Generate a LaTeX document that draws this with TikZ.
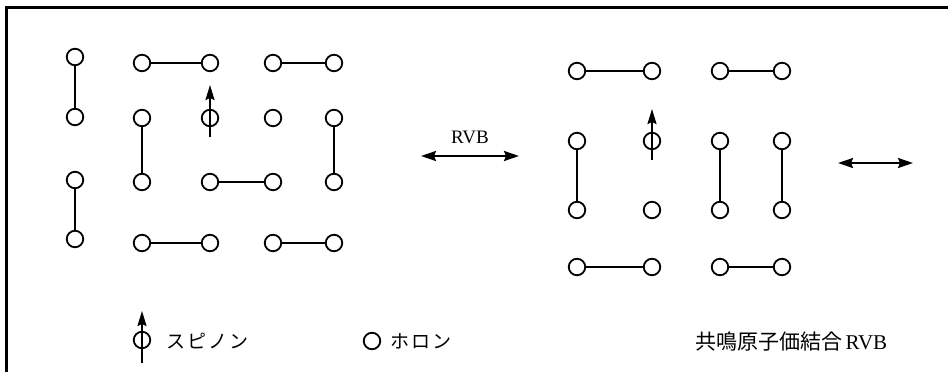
\documentclass[tikz,border=0pt]{standalone}
\usepackage{fontspec}
\newfontfamily\jpfont{Noto Sans CJK JP}
\setmainfont{Liberation Serif}
\usetikzlibrary{arrows.meta}
\tikzset{
  site/.style={circle,draw,line width=1.8pt,minimum size=16.5pt,inner sep=0pt,fill=white},
  bond/.style={line width=1.3pt},
  spinarrow/.style={line width=2pt,-{Stealth[length=15pt,width=9pt,inset=2pt]}},
  rvbarrow/.style={line width=2.2pt,{Stealth[length=15pt,width=10pt,inset=2pt]}-{Stealth[length=15pt,width=10pt,inset=2pt]}},
  frame/.style={line width=2.2pt},
  lbl/.style={inner sep=0pt,anchor=west}
}
\begin{document}
\begin{tikzpicture}[x=1pt,y=-1pt]
\useasboundingbox (0,0) rectangle (948,372);
\coordinate (fbl) at (6.5,372);
\coordinate (ftl) at (6.5,7.5);
\coordinate (ftr) at (948,7.5);
\draw[frame] (fbl) -- (ftl) -- (ftr);

% left lattice
\foreach \r/\y in {1/57,2/117,3/180,4/239} \node[site] (a1\r) at (75,\y) {};
\foreach \c/\x in {2/142,3/210,4/273,5/334}
  \foreach \r/\y in {1/63,2/118,3/182,4/243} \node[site] (a\c\r) at (\x,\y) {};
\draw[bond] (a11) -- (a12);
\draw[bond] (a13) -- (a14);
\draw[bond] (a21) -- (a31);
\draw[bond] (a41) -- (a51);
\draw[bond] (a22) -- (a23);
\draw[bond] (a52) -- (a53);
\draw[bond] (a33) -- (a43);
\draw[bond] (a24) -- (a34);
\draw[bond] (a44) -- (a54);
\coordinate (sa0) at (210,137);
\coordinate (sa1) at (210,85);
\draw[spinarrow] (sa0) -- (sa1);

% RVB arrow
\coordinate (r0) at (421,156);
\coordinate (r1) at (519,156);
\draw[rvbarrow] (r0) -- (r1);
\node[inner sep=0pt,font=\fontsize{19}{19}\selectfont] (rvb) at (470,137) {RVB};

% right lattice
\foreach \c/\x in {1/577,2/652,3/720,4/782}
  \foreach \r/\y in {1/71,2/141,3/210,4/267} \node[site] (b\c\r) at (\x,\y) {};
\draw[bond] (b11) -- (b21);
\draw[bond] (b31) -- (b41);
\draw[bond] (b12) -- (b13);
\draw[bond] (b32) -- (b33);
\draw[bond] (b42) -- (b43);
\draw[bond] (b14) -- (b24);
\draw[bond] (b34) -- (b44);
\coordinate (sb0) at (652,160);
\coordinate (sb1) at (652,109);
\draw[spinarrow] (sb0) -- (sb1);

% right arrow
\coordinate (q0) at (838,163);
\coordinate (q1) at (913,163);
\draw[rvbarrow] (q0) -- (q1);

% legend
\node[site] (ls) at (142,340) {};
\coordinate (ls0) at (142,363);
\coordinate (ls1) at (142,311);
\draw[spinarrow] (ls0) -- (ls1);
\node[lbl,font=\jpfont\fontsize{19}{19}\selectfont] (tspin) at (166,341) {ス\hspace{2pt}ピ\hspace{2pt}ノ\hspace{2pt}ン};
\node[site] (lh) at (372,341) {};
\node[lbl,font=\jpfont\fontsize{19}{19}\selectfont] (thol) at (390,341) {ホ\hspace{2pt}ロ\hspace{2pt}ン};
\node[lbl,font=\fontsize{21}{21}\selectfont] (trvb) at (695,342) {{\jpfont 共鳴原子価結合}\,RVB};
\end{tikzpicture}
\end{document}
